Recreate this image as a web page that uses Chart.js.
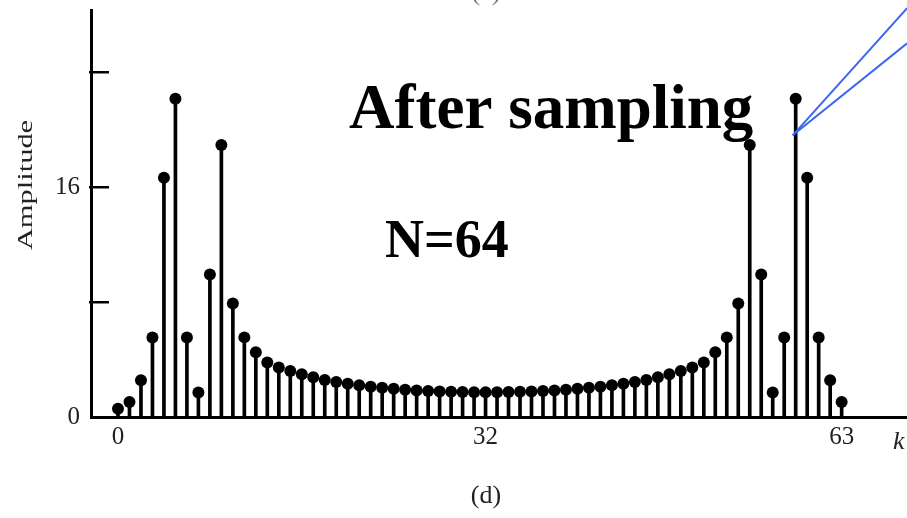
<!DOCTYPE html>
<html><head><meta charset="utf-8">
<script src="https://cdn.jsdelivr.net/npm/chart.js@4"></script>
<style>html,body{margin:0;padding:0;background:#fff;overflow:hidden}#wrap{position:relative;width:907px;height:518px}</style>
</head><body><div id="wrap"><canvas id="c" width="907" height="518"></canvas></div>
<script>
// ---- data ----
const kValues = [0,1,2,3,4,5,6,7,8,9,10,11,12,13,14,15,16,17,18,19,20,21,22,23,24,25,26,27,28,29,30,31,
                 32,33,34,35,36,37,38,39,40,41,42,43,44,45,46,47,48,49,50,51,52,53,54,55,56,57,58,59,60,61,62,63];
const amplitudes = [0.58,1.05,2.56,5.53,16.65,22.15,5.53,1.70,9.92,18.92,7.90,5.54,4.50,3.80,3.44,3.20,
                    2.97,2.76,2.58,2.44,2.32,2.21,2.11,2.03,1.96,1.90,1.85,1.81,1.78,1.76,1.74,1.73,
                    1.72,1.73,1.74,1.76,1.78,1.81,1.85,1.90,1.96,2.03,2.11,2.21,2.32,2.44,2.58,2.76,
                    2.97,3.20,3.44,3.80,4.50,5.54,7.90,18.92,9.92,1.70,5.53,22.15,16.65,5.53,2.56,1.05];
const xTickValues = [0, 32, 63];
const yTickValues = [0, 8, 16, 24];
const yTickLabels = ['0', '', '16', ''];
const titleText = 'After sampling';
const subText = 'N=64';
const captionText = '(d)';
const prevCaptionText = '(c)';
const xAxisLabel = 'k';
const yAxisLabel = 'Amplitude';
// callout anchor (data units) and far ends
const calloutStart = {x: 58.74, y: 19.6};
const calloutEnds = [{x: 68.7, y: 28.45}, {x: 68.7, y: 26.0}];

const points = kValues.map((k, i) => ({x: k, y: amplitudes[i]}));
const SERIF = '"Liberation Serif", "Times New Roman", serif';

const annot = {
  id: 'annot',
  afterDraw(chart) {
    const ctx = chart.ctx, xs = chart.scales.x, ys = chart.scales.y;
    ctx.save();
    // inward y ticks
    ctx.strokeStyle = '#000'; ctx.lineWidth = 2.5;
    yTickValues.forEach(v => {
      if (v === 0) return;
      const py = Math.round(ys.getPixelForValue(v)) + 0.25;
      ctx.beginPath(); ctx.moveTo(ys.right - 2, py); ctx.lineTo(ys.right + 18, py); ctx.stroke();
    });
    // callout lines
    ctx.strokeStyle = '#3a66f2'; ctx.lineWidth = 2;
    const sx = xs.getPixelForValue(calloutStart.x), sy = ys.getPixelForValue(calloutStart.y);
    calloutEnds.forEach(e => {
      ctx.beginPath(); ctx.moveTo(sx, sy);
      ctx.lineTo(xs.getPixelForValue(e.x), ys.getPixelForValue(e.y)); ctx.stroke();
    });
    // texts
    ctx.fillStyle = '#000';
    ctx.textAlign = 'left'; ctx.textBaseline = 'alphabetic';
    ctx.font = 'bold 63px ' + SERIF;
    ctx.fillText(titleText, 349, 128);
    ctx.font = 'bold 54px ' + SERIF;
    ctx.fillText(subText, 385, 257);
    ctx.fillStyle = '#222';
    ctx.font = '26px ' + SERIF;
    ctx.textAlign = 'center'; ctx.textBaseline = 'middle';
    ctx.fillText(captionText, 486, 496);
    ctx.fillStyle = '#777';
    ctx.textBaseline = 'alphabetic';
    ctx.fillText(prevCaptionText, 486, 0);
    ctx.fillStyle = '#222';
    ctx.font = 'italic 26px ' + SERIF;
    ctx.textAlign = 'left'; ctx.textBaseline = 'middle';
    ctx.fillText(xAxisLabel, 893, 442);
    // y axis title, stretched along its length
    ctx.save();
    ctx.translate(26, 185);
    ctx.rotate(-Math.PI / 2);
    ctx.scale(1.45, 1);
    ctx.font = '21px ' + SERIF;
    ctx.textAlign = 'center'; ctx.textBaseline = 'middle';
    ctx.fillText(yAxisLabel, 0, 0);
    ctx.restore();
    ctx.restore();
  }
};

function noPad(s) { s.paddingTop = 0; s.paddingBottom = 0; s.paddingLeft = 0; s.paddingRight = 0; }

new Chart(document.getElementById('c').getContext('2d'), {
  type: 'scatter',
  data: {
    datasets: [
      { type: 'scatter', data: points, pointRadius: 6, pointHoverRadius: 6, pointStyle: 'circle',
        backgroundColor: '#000', borderColor: '#000', borderWidth: 0, order: 0 },
      { type: 'bar', data: points, barThickness: 3, backgroundColor: '#000', borderWidth: 0, order: 1, grouped: false }
    ]
  },
  options: {
    responsive: false, animation: false, events: [],
    layout: { autoPadding: false, padding: { top: 10, left: 0, right: 0, bottom: 0 } },
    plugins: { legend: { display: false }, tooltip: { enabled: false } },
    scales: {
      x: {
        type: 'linear', min: -2.35, max: 68.69, offset: false,
        grid: { display: false, drawTicks: false },
        border: { display: true, width: 3, color: '#000' },
        afterBuildTicks: s => { s.ticks = xTickValues.map(v => ({ value: v })); },
        afterFit: s => { s.height = 101; noPad(s); },
        ticks: { autoSkip: false, maxRotation: 0, padding: 5, color: '#222',
                 font: { family: SERIF, size: 25 }, callback: v => String(v) }
      },
      y: {
        type: 'linear', min: 0, max: 28.32,
        grid: { display: false, drawTicks: false },
        border: { display: true, width: 3, color: '#000' },
        afterBuildTicks: s => { s.ticks = yTickValues.map(v => ({ value: v })); },
        afterFit: s => { s.width = 91; noPad(s); },
        ticks: { autoSkip: false, padding: 11, color: '#222',
                 font: { family: SERIF, size: 25 }, callback: (v, i) => yTickLabels[i] }
      }
    }
  },
  plugins: [annot]
});
</script>
</body></html>
